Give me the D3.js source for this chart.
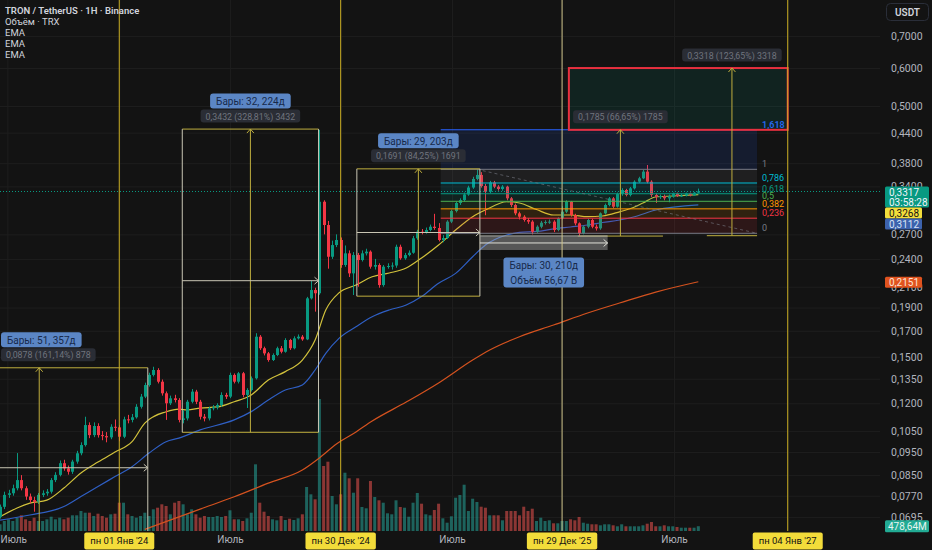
<!DOCTYPE html>
<html>
<head>
<meta charset="utf-8">
<script src="https://cdn.jsdelivr.net/npm/d3@7"></script>
<style>
  html, body { margin: 0; background: #131313; }
  svg { display: block; font-family: Roboto, "Liberation Sans", sans-serif; }
</style>
</head>
<body>
<div id="chart"></div>
<script>
// ---- данные: недельные свечи TRX/USDT ----
const firstWeek = new Date(2023, 5, 19);
const firstOpen = 0.0696;
const closes = [
  0.0730,0.0773,0.0779,0.0798,0.0830,0.0798,0.0767,0.0754,0.0748,0.0773,
  0.0779,0.0785,0.0830,0.0851,0.0900,0.0878,0.0864,0.0907,0.0944,0.0982,
  0.1081,0.1030,0.1076,0.1030,0.1025,0.1019,0.1072,0.1069,0.1022,0.1111,
  0.1108,0.1122,0.1180,0.1239,0.1310,0.1375,0.1408,0.1331,0.1259,0.1200,
  0.1229,0.1219,0.1108,0.1116,0.1209,0.1269,0.1209,0.1125,0.1116,0.1171,
  0.1177,0.1190,0.1249,0.1239,0.1375,0.1331,0.1386,0.1249,0.1279,0.1353,
  0.1652,0.1563,0.1525,0.1477,0.1513,0.1563,0.1537,0.1626,0.1563,0.1639,
  0.1652,0.1631,0.1986,0.2067,0.2035,0.3158,0.2824,0.2425,0.2565,0.2628,
  0.2331,0.2465,0.2239,0.2445,0.2387,0.2465,0.2485,0.2312,0.2331,0.2117,
  0.2312,0.2320,0.2325,0.2544,0.2407,0.2445,0.2472,0.2650,0.2735,0.2731,
  0.2757,0.2801,0.2784,0.2628,0.2653,0.2870,0.3020,0.3139,0.3184,0.3270,
  0.3381,0.3523,0.3591,0.3406,0.3314,0.3464,0.3395,0.3357,0.3395,0.3210,
  0.3109,0.2987,0.2939,0.2893,0.2870,0.2734,0.2801,0.2856,0.2866,0.2870,
  0.2757,0.2916,0.3011,0.3158,0.2963,0.2847,0.2714,0.2801,0.2893,0.2801,
  0.2779,0.2987,0.3109,0.3210,0.3084,0.3277,0.3341,0.3262,0.3368,0.3477,
  0.3534,0.3649,0.3477,0.3262,0.3231,0.3246,0.3210,0.3238,0.3288,0.3246,
  0.3254,0.3288,0.3257,0.3298,0.3317
];
const highs = [
  0.0738,0.0785,0.0792,0.0812,0.0945,0.0850,0.0806,0.0778,0.0766,0.0780,
  0.0790,0.0795,0.0838,0.0862,0.0912,0.0915,0.0890,0.0915,0.0955,0.0995,
  0.1125,0.1095,0.1095,0.1090,0.1050,0.1045,0.1085,0.1110,0.1080,0.1125,
  0.1135,0.1140,0.1195,0.1255,0.1325,0.1390,0.1430,0.1420,0.1345,0.1270,
  0.1245,0.1250,0.1230,0.1160,0.1220,0.1285,0.1280,0.1220,0.1140,0.1180,
  0.1190,0.1200,0.1265,0.1262,0.1390,0.1385,0.1395,0.1395,0.1290,0.1365,
  0.1680,0.1665,0.1575,0.1535,0.1525,0.1575,0.1580,0.1640,0.1635,0.1655,
  0.1670,0.1665,0.2000,0.2160,0.2090,0.4459,0.3180,0.2880,0.2620,0.2700,
  0.2660,0.2560,0.2500,0.2480,0.2470,0.2500,0.2520,0.2500,0.2400,0.2350,
  0.2330,0.2350,0.2360,0.2570,0.2570,0.2470,0.2500,0.2680,0.2760,0.2770,
  0.2790,0.2830,0.2980,0.2850,0.2690,0.2890,0.3040,0.3160,0.3210,0.3300,
  0.3410,0.3560,0.3690,0.3640,0.3440,0.3490,0.3490,0.3420,0.3420,0.3410,
  0.3230,0.3130,0.3010,0.2960,0.2920,0.2890,0.2820,0.2880,0.2890,0.2900,
  0.2890,0.2930,0.3090,0.3180,0.3170,0.2980,0.2860,0.2820,0.2910,0.2910,
  0.2830,0.3000,0.3130,0.3230,0.3230,0.3300,0.3370,0.3360,0.3390,0.3500,
  0.3560,0.3680,0.3767,0.3500,0.3290,0.3270,0.3270,0.3270,0.3300,0.3300,
  0.3280,0.3300,0.3300,0.3310,0.3364
];
const lows = [
  0.0690,0.0722,0.0762,0.0770,0.0790,0.0790,0.0755,0.0742,0.0713,0.0740,
  0.0765,0.0770,0.0778,0.0822,0.0845,0.0868,0.0852,0.0855,0.0898,0.0935,
  0.0975,0.1015,0.1020,0.1018,0.1005,0.0995,0.1010,0.1050,0.1000,0.1015,
  0.1090,0.1095,0.1115,0.1170,0.1230,0.1300,0.1365,0.1320,0.1245,0.1108,
  0.1190,0.1205,0.1095,0.1090,0.1105,0.1200,0.1195,0.1110,0.1100,0.1105,
  0.1160,0.1165,0.1180,0.1225,0.1230,0.1320,0.1320,0.1235,0.1173,0.1270,
  0.1345,0.1550,0.1510,0.1465,0.1470,0.1505,0.1525,0.1530,0.1550,0.1555,
  0.1630,0.1620,0.1625,0.1975,0.1863,0.2020,0.2700,0.2290,0.2400,0.2540,
  0.2300,0.2310,0.2200,0.2018,0.2100,0.2370,0.2440,0.2290,0.2280,0.2090,
  0.2100,0.2290,0.2280,0.2300,0.2390,0.2390,0.2430,0.2460,0.2630,0.2700,
  0.2710,0.2740,0.2760,0.2610,0.2600,0.2640,0.2850,0.3000,0.3110,0.3160,
  0.3250,0.3360,0.3500,0.3380,0.2960,0.3290,0.3370,0.3330,0.3330,0.3180,
  0.3080,0.2960,0.2900,0.2870,0.2840,0.2700,0.2720,0.2780,0.2830,0.2840,
  0.2730,0.2740,0.2900,0.2990,0.2940,0.2820,0.2680,0.2700,0.2780,0.2780,
  0.2750,0.2760,0.2970,0.3090,0.3060,0.3070,0.3250,0.3240,0.3240,0.3350,
  0.3460,0.3520,0.3450,0.3230,0.3140,0.3200,0.3180,0.3150,0.3220,0.3230,
  0.3230,0.3240,0.3240,0.3250,0.3290
];
// объём, млрд TRX
const volumes = [
  0.67,1.00,1.17,1.00,1.33,1.57,1.17,1.00,1.33,1.00,
  1.00,1.17,1.43,1.17,1.33,1.17,1.33,1.57,1.57,2.00,
  1.83,1.83,1.50,1.73,1.50,1.33,1.67,1.73,2.83,2.83,
  1.67,1.50,1.33,1.50,1.83,1.50,2.17,2.33,2.67,2.50,
  1.67,2.83,3.00,2.67,1.67,2.17,1.67,1.33,1.50,1.40,
  1.40,1.50,1.40,1.50,2.07,1.17,1.17,1.00,1.27,1.83,
  6.67,2.83,1.93,1.50,1.17,1.07,1.50,1.10,1.23,1.10,
  1.27,1.67,4.40,3.67,3.17,13.20,6.50,6.93,3.50,2.67,
  3.67,5.83,5.27,3.83,5.27,2.40,2.27,5.00,3.40,3.07,
  2.83,1.77,1.67,3.07,2.40,2.33,1.43,2.83,3.80,2.73,
  1.67,1.57,2.10,2.73,1.27,0.83,1.47,3.33,3.60,4.63,
  2.00,3.23,2.90,2.43,2.33,1.57,1.57,1.57,1.07,2.00,
  2.00,2.00,1.57,2.43,2.00,2.23,1.00,1.33,1.00,1.07,
  0.77,0.77,1.00,1.00,1.17,1.07,1.40,0.83,0.73,0.67,
  0.67,0.57,0.67,0.67,0.57,0.47,0.67,0.47,0.47,0.47,
  0.47,0.57,0.73,0.90,0.47,0.47,0.57,0.47,0.47,0.40,
  0.33,0.33,0.33,0.33,0.47864
];
// EMA: [номер свечи, значение]
const emaFast = [
  [0,0.0696],[4,0.0726],[7,0.0743],[11,0.0754],[15,0.0799],[19,0.0859],[23,0.0905],
  [27,0.0950],[31,0.0998],[34,0.1091],[39,0.1152],[42,0.1167],[44,0.1162],[47,0.1173],
  [51,0.1179],[55,0.1209],[59,0.1249],[63,0.1342],[67,0.1397],[71,0.1477],[74,0.1626],
  [76.5,0.1878],[79.6,0.2039],[83.6,0.2117],[87.4,0.2203],[91.4,0.2243],[95.4,0.2297],
  [99,0.2410],[103,0.2565],[107,0.2757],[111,0.2939],[114,0.3035],[119,0.3158],[122,0.3139],
  [126,0.3042],[130,0.2963],[134,0.2963],[138,0.2939],[141.5,0.2949],[145.5,0.3009],
  [148.6,0.3069],[151,0.3139],[154,0.3231],[158,0.3246],[164,0.3268]
];
const emaMid = [
  [0,0.0685],[7,0.0702],[15,0.0731],[19,0.0767],[23,0.0805],[27,0.0844],[31,0.0885],
  [35,0.0945],[39,0.0998],[42,0.1015],[47,0.1056],[55,0.1108],[59,0.1153],[63,0.1219],
  [67,0.1279],[71,0.1310],[74,0.1408],[76.5,0.1525],[79.6,0.1639],[83.6,0.1733],
  [87.4,0.1818],[91.4,0.1878],[95.4,0.1923],[99,0.2003],[103,0.2135],[107,0.2239],
  [111,0.2425],[114,0.2565],[119,0.2692],[122,0.2725],[126,0.2738],[130,0.2771],
  [134,0.2797],[138,0.2824],[141.5,0.2858],[145.5,0.2893],[149,0.2939],[154,0.3035],[164,0.3112]
];
const emaSlow = [
  [34,0.0655],[47,0.0722],[55,0.0766],[63,0.0818],[71,0.0871],[75,0.0923],[79,0.0987],
  [83.6,0.1046],[87.4,0.1102],[95.4,0.1207],[103,0.1323],[111,0.1477],[115,0.1550],
  [122,0.1652],[130,0.1747],[138,0.1851],[145.5,0.1942],[154,0.2047],[164,0.2151]
];

const priceTicks = [0.7, 0.6, 0.5, 0.44, 0.38, 0.34, 0.27, 0.24, 0.21, 0.19, 0.17, 0.15,
  0.135, 0.12, 0.105, 0.095, 0.085, 0.077, 0.0695];
const julyTicks = [new Date(2023, 6, 1), new Date(2024, 6, 1), new Date(2025, 6, 1), new Date(2026, 6, 1)];
const markerDates = [new Date(2024, 0, 1), new Date(2024, 11, 30), new Date(2025, 11, 29), new Date(2027, 0, 4)];
const markerLabels = ["пн 01 Янв '24", "пн 30 Дек '24", "пн 29 Дек '25", "пн 04 Янв '27"];
const markerColors = ["#c9ad23", "#c9ad23", "#cfc48a", "#c9ad23"];

const fibLevels = [0, 0.236, 0.382, 0.5, 0.618, 0.786, 1, 1.618];
const fibLabels = ["0", "0,236", "0,382", "0,5", "0,618", "0,786", "1", "1,618"];
const fibColors = ["#787b86", "#f23645", "#ff9800", "#4caf50", "#089981", "#00bcd4", "#787b86", "#2962ff"];
const fib = { from: 103.5, to: 177.8, trendFrom: 112, p0: 0.2714, p1: 0.3690 };

// инструменты измерения (номер свечи / цена)
const rangeBoxes = [
  { from: -16.3, to: 34.7, low: 0.0545, high: 0.1423, bars: "Бары: 51, 357д", info: "0,0878 (161,14%) 878" },
  { from: 42.8, to: 74.8, low: 0.1044, high: 0.4476, bars: "Бары: 32, 224д", info: "0,3432 (328,81%) 3432" },
  { from: 83.8, to: 112.7, low: 0.2007, high: 0.3698, bars: "Бары: 29, 203д", info: "0,1691 (84,25%) 1691" }
];
const priceRanges = [
  { from: 135.7, to: 155.7, low: 0.2678, high: 0.4463, info: "0,1785 (66,65%) 1785" },
  { from: 166, to: 177.8, low: 0.2683, high: 0.6001, info: "0,3318 (123,65%) 3318" }
];
const dateRange = { from: 112.7, to: 142.7, low: 0.2505, high: 0.2680, lines: ["Бары: 30, 210д", "Объём 56,67 B"] };
const targetZone = { from: 133.6, to: 185, low: 0.4460, high: 0.6000 };
const legendLines = ["TRON / TetherUS · 1H · Binance", "Объём · TRX", "EMA", "EMA", "EMA"];

// ---- размеры и шкалы ----
const W = 932, H = 550, plotW = 880, plotH = 531;
const WEEK = 7 * 864e5;
const up = "#089981", down = "#f23645";

const svg = d3.select("#chart").append("svg").attr("width", W).attr("height", H);
svg.append("rect").attr("width", W).attr("height", H).attr("fill", "#131313");

const x = d3.scaleTime()
  .domain([new Date(2023, 5, 18, 22), new Date(2027, 5, 4, 17)])
  .range([0, plotW]);
const y = d3.scaleLog().domain([0.0650, 0.8318]).range([plotH, 0]);
const yVol = d3.scaleLinear().domain([0, 53.1]).range([plotH, 0]);
const dateAt = k => new Date(+firstWeek + k * WEEK);
const kx = k => x(dateAt(k));
const fmt4 = v => d3.format(".4f")(v).replace(".", ",");

const candles = closes.map((c, i) => ({
  i, open: i ? closes[i - 1] : firstOpen, close: c, high: highs[i], low: lows[i], vol: volumes[i]
}));

svg.append("defs").append("clipPath").attr("id", "plot-clip")
  .append("rect").attr("width", plotW).attr("height", plotH);

// сетка
const grid = svg.append("g");
grid.append("g")
  .call(d3.axisLeft(y).tickValues(priceTicks).tickSize(-plotW).tickFormat(""))
  .call(g => { g.select(".domain").remove(); g.selectAll("line").attr("stroke", "#1e1e1e"); });
grid.append("g").attr("transform", `translate(0,${plotH})`)
  .call(d3.axisBottom(x).tickValues(julyTicks.concat(markerDates)).tickSize(-plotH).tickFormat(""))
  .call(g => { g.select(".domain").remove(); g.selectAll("line").attr("stroke", "#1e1e1e"); });

const plot = svg.append("g").attr("clip-path", "url(#plot-clip)");

// объём
plot.append("g").selectAll("rect").data(candles).join("rect")
  .attr("x", d => kx(d.i) - 1.5)
  .attr("y", d => yVol(d.vol))
  .attr("width", 3)
  .attr("height", d => plotH - yVol(d.vol))
  .attr("fill", d => d.close >= d.open ? "rgba(38,166,154,0.55)" : "rgba(239,83,80,0.55)");

// EMA
const emaLine = d3.line().x(d => kx(d[0])).y(d => y(d[1])).curve(d3.curveMonotoneX);
[[emaSlow, "#d4521f"], [emaMid, "#2f5fc4"], [emaFast, "#d2c23c"]].forEach(([data, col]) => {
  plot.append("path").datum(data).attr("d", emaLine)
    .attr("fill", "none").attr("stroke", col).attr("stroke-width", 1.2);
});

// свечи
const cg = plot.append("g");
cg.selectAll("line").data(candles).join("line")
  .attr("x1", d => Math.round(kx(d.i)) + 0.5).attr("x2", d => Math.round(kx(d.i)) + 0.5)
  .attr("y1", d => y(d.high)).attr("y2", d => y(d.low))
  .attr("stroke", d => d.close >= d.open ? up : down);
cg.selectAll("rect").data(candles).join("rect")
  .attr("x", d => Math.round(kx(d.i)) - 1)
  .attr("y", d => y(Math.max(d.open, d.close)))
  .attr("width", 3)
  .attr("height", d => Math.max(1, Math.abs(y(d.open) - y(d.close))))
  .attr("fill", d => d.close >= d.open ? up : down);

// линия текущей цены
const last = candles[candles.length - 1];
plot.append("line").attr("x1", 0).attr("x2", plotW)
  .attr("y1", y(last.close)).attr("y2", y(last.close))
  .attr("stroke", up).attr("stroke-dasharray", "1,2");

// ---- рисунки ----
const draw = plot.append("g");

// Фибоначчи (логарифмическая)
const fibPrice = r => fib.p0 * Math.pow(fib.p1 / fib.p0, r);
const fx0 = kx(fib.from), fx1 = kx(fib.to);
fibLevels.slice(1).forEach((r, i) => {
  draw.append("rect").attr("x", fx0).attr("width", fx1 - fx0)
    .attr("y", y(fibPrice(r))).attr("height", y(fibPrice(fibLevels[i])) - y(fibPrice(r)))
    .attr("fill", fibColors[i + 1]).attr("fill-opacity", 0.12);
});
fibLevels.forEach((r, i) => {
  draw.append("line").attr("x1", fx0).attr("x2", fx1)
    .attr("y1", y(fibPrice(r))).attr("y2", y(fibPrice(r)))
    .attr("stroke", fibColors[i]).attr("stroke-width", 1);
  draw.append("text").attr("x", fx1 + 5).attr("y", y(fibPrice(r)) - 2)
    .attr("font-size", 9).attr("font-weight", r === 1.618 ? 600 : 400)
    .attr("fill", fibColors[i]).text(fibLabels[i]);
});
draw.append("line")
  .attr("x1", kx(fib.trendFrom)).attr("y1", y(fib.p1))
  .attr("x2", fx1).attr("y2", y(fib.p0))
  .attr("stroke", "#787b86").attr("stroke-opacity", 0.6).attr("stroke-dasharray", "3,3");

// целевая зона
draw.append("rect")
  .attr("x", kx(targetZone.from)).attr("width", kx(targetZone.to) - kx(targetZone.from))
  .attr("y", y(targetZone.high)).attr("height", y(targetZone.low) - y(targetZone.high))
  .attr("fill", "rgba(8,153,129,0.12)").attr("stroke", "#e8303f").attr("stroke-width", 2);

const yellowLine = "#bfae3e", whiteLine = "#c9c6b4";
function seg(g, x1, y1, x2, y2, col) {
  g.append("line").attr("x1", x1).attr("y1", y1).attr("x2", x2).attr("y2", y2)
    .attr("stroke", col).attr("stroke-width", 1);
}
function upArrow(g, cx, yy, col) {
  g.append("path").attr("d", `M${cx - 3.5},${yy + 4}L${cx},${yy}L${cx + 3.5},${yy + 4}`)
    .attr("fill", "none").attr("stroke", col);
}
function rightArrow(g, xx, cy, col) {
  g.append("path").attr("d", `M${xx - 4},${cy - 3.5}L${xx},${cy}L${xx - 4},${cy + 3.5}`)
    .attr("fill", "none").attr("stroke", col);
}

rangeBoxes.forEach(b => {
  const xa = kx(b.from), xb = kx(b.to), xm = (xa + xb) / 2;
  const ya = y(b.low), yb = y(b.high), ym = (ya + yb) / 2;
  seg(draw, xa, yb, xb, yb, yellowLine);
  seg(draw, xa, ya, xb, ya, yellowLine);
  seg(draw, xa, yb, xa, ya, whiteLine);
  seg(draw, xb, yb, xb, ya, whiteLine);
  seg(draw, xm, ya, xm, yb, yellowLine);
  upArrow(draw, xm, yb, yellowLine);
  seg(draw, xa, ym, xb, ym, whiteLine);
  rightArrow(draw, xb, ym, whiteLine);
});

priceRanges.forEach(b => {
  const xa = kx(b.from), xb = kx(b.to), xm = (xa + xb) / 2;
  seg(draw, xa, y(b.low), xb, y(b.low), yellowLine);
  seg(draw, xm, y(b.low), xm, y(b.high), yellowLine);
  upArrow(draw, xm, y(b.high), yellowLine);
});

{
  const xa = kx(dateRange.from), xb = kx(dateRange.to);
  const ya = y(dateRange.low), yb = y(dateRange.high);
  draw.append("rect").attr("x", xa).attr("y", yb).attr("width", xb - xa).attr("height", ya - yb)
    .attr("fill", "rgba(190,190,190,0.4)");
  seg(draw, xa, yb, xb, yb, "#a8a8a0");
  seg(draw, xa, (ya + yb) / 2, xb, (ya + yb) / 2, "#e0e0d8");
  rightArrow(draw, xb, (ya + yb) / 2, "#e0e0d8");
}

// вертикальные линии дат
markerDates.forEach((d, i) => {
  svg.append("line").attr("x1", x(d)).attr("x2", x(d)).attr("y1", 0).attr("y2", plotH)
    .attr("stroke", markerColors[i]).attr("stroke-width", 1);
});

// ---- подписи инструментов ----
const labels = svg.append("g");
function labelBox(cx, top, lines, fill, color, size, lineH, padX) {
  const g = labels.append("g");
  const texts = lines.map((s, i) => g.append("text")
    .attr("y", top + lineH * (i + 0.5) + 0.5)
    .attr("dy", "0.35em").attr("text-anchor", "middle")
    .attr("font-size", size).attr("fill", color).text(s));
  const w = d3.max(texts, t => t.node().getComputedTextLength()) + padX * 2;
  const c = Math.max(cx, w / 2 + 1);
  texts.forEach(t => t.attr("x", c));
  g.insert("rect", "text").attr("x", c - w / 2).attr("y", top)
    .attr("width", w).attr("height", lineH * lines.length).attr("rx", 3).attr("fill", fill);
}
const barFill = "#5b86c5", barText = "#17294a", infoFill = "#2a2d35", infoText = "#70747e";
rangeBoxes.forEach(b => {
  const xm = (kx(b.from) + kx(b.to)) / 2, top = y(b.high);
  labelBox(xm, top - 35.5, [b.bars], barFill, barText, 10, 15, 6);
  labelBox(xm, top - 19.5, [b.info], infoFill, infoText, 8.8, 13, 5);
});
priceRanges.forEach(b => {
  const xm = (kx(b.from) + kx(b.to)) / 2;
  labelBox(xm, y(b.high) - 19.5, [b.info], infoFill, infoText, 8.8, 13, 5);
});
labelBox((kx(dateRange.from) + kx(dateRange.to)) / 2, y(dateRange.low) + 7.5,
  dateRange.lines, barFill, barText, 10, 15, 6);

// ---- оси ----
svg.append("g").attr("transform", "translate(891,0)")
  .call(d3.axisRight(y).tickValues(priceTicks).tickSize(0).tickPadding(0).tickFormat(fmt4))
  .call(g => {
    g.select(".domain").remove();
    g.selectAll("text").attr("fill", "#b2b5be").attr("font-size", 10.5)
      .attr("font-family", "Roboto, sans-serif");
  });

svg.append("g").attr("transform", `translate(0,${plotH})`)
  .call(d3.axisBottom(x).tickValues(julyTicks).tickSize(0).tickPadding(5).tickFormat(() => "Июль"))
  .call(g => {
    g.select(".domain").remove();
    g.selectAll("text").attr("fill", "#b2b5be").attr("font-size", 10)
      .attr("font-family", "Roboto, sans-serif")
      .each(function () {
        const t = d3.select(this), w = this.getComputedTextLength();
        const px = x(t.datum());
        if (px - w / 2 < 0) t.attr("x", w / 2 - px);
      });
  });

markerDates.forEach((d, i) => {
  const g = svg.append("g");
  const t = g.append("text").attr("x", x(d)).attr("y", 544).attr("text-anchor", "middle")
    .attr("font-size", 9.5).attr("fill", "#131313").text(markerLabels[i]);
  const w = t.node().getComputedTextLength() + 12;
  g.insert("rect", "text").attr("x", x(d) - w / 2).attr("y", 532.5)
    .attr("width", w).attr("height", 17).attr("rx", 2).attr("fill", "#f3dc3a");
});

// метки последних значений на шкале цены
const tags = [
  { v: last.close, fill: "#089981", color: "#f0f3fa", lines: [fmt4(last.close), "03:58:28"], w: 44 },
  { v: emaFast[emaFast.length - 1][1], fill: "#f3de3c", color: "#131313", lines: [fmt4(emaFast[emaFast.length - 1][1])], w: 37 },
  { v: emaMid[emaMid.length - 1][1], fill: "#3c62ad", color: "#d9e2f5", lines: [fmt4(emaMid[emaMid.length - 1][1])], w: 37 },
  { v: emaSlow[emaSlow.length - 1][1], fill: "#e0531f", color: "#fbe4d8", lines: [fmt4(emaSlow[emaSlow.length - 1][1])], w: 37 }
];
let prevBottom = -Infinity;
tags.sort((a, b) => y(a.v) - y(b.v)).forEach(t => {
  const h = t.lines.length * 10 + 1;
  let top = Math.max(y(t.v) - 5, prevBottom);
  prevBottom = top + h;
  svg.append("rect").attr("x", 885).attr("y", top).attr("width", t.w).attr("height", h)
    .attr("rx", 1.5).attr("fill", t.fill);
  t.lines.forEach((s, i) => svg.append("text").attr("x", 889).attr("y", top + 5.5 + i * 10)
    .attr("dy", "0.35em").attr("font-size", 10).attr("fill", t.color).text(s));
});
{
  const vy = yVol(last.vol);
  svg.append("rect").attr("x", 885).attr("y", vy - 6).attr("width", 44).attr("height", 12)
    .attr("rx", 1.5).attr("fill", "#22ab94");
  svg.append("text").attr("x", 888).attr("y", vy).attr("dy", "0.35em").attr("font-size", 10)
    .attr("fill", "#e6f5f1")
    .text(d3.format(".2f")(last.vol * 1000).replace(".", ",") + "M");
}

// кнопка валюты
svg.append("rect").attr("x", 886.5).attr("y", 3.5).attr("width", 42).attr("height", 17)
  .attr("rx", 4).attr("fill", "#131313").attr("stroke", "#2a2e39");
svg.append("text").attr("x", 907.5).attr("y", 15.5).attr("text-anchor", "middle")
  .attr("font-size", 10).attr("font-weight", 600).attr("fill", "#d1d4dc").text("USDT");

// легенда
legendLines.forEach((s, i) => {
  svg.append("text").attr("x", 5).attr("y", i === 0 ? 14 : 14 + i * 11)
    .attr("font-size", i === 0 ? 9.5 : 9.5).attr("font-weight", i === 0 ? 600 : 400)
    .attr("fill", "#d1d4dc").text(s);
});
</script>
</body>
</html>
